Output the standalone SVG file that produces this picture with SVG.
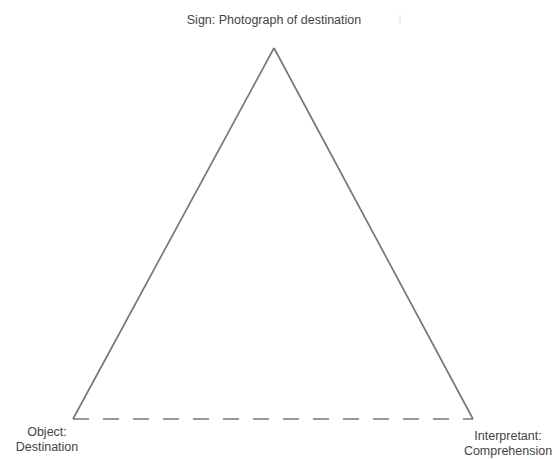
<svg xmlns="http://www.w3.org/2000/svg" width="554" height="459" viewBox="0 0 554 459">
  <style>
    .lbl { font-family: "Liberation Sans", Arial, sans-serif; font-size: 12.5px; fill: #444; text-anchor: middle; }
    .edge { stroke: #777777; stroke-width: 1.7; fill: none; stroke-linecap: butt; }
  </style>
  <rect width="554" height="459" fill="#ffffff"/>
  <!-- connectors: two solid sides and a dashed base -->
  <g id="connectors">
    <line class="edge" x1="274" y1="48" x2="73" y2="419"/>
    <line class="edge" x1="274" y1="48" x2="473" y2="419"/>
    <line class="edge" x1="73" y1="419" x2="473" y2="419" stroke-dasharray="16 14"/>
  </g>
  <g id="sign">
    <text class="lbl" x="274" y="24">Sign: Photograph of destination</text>
    <line x1="400" y1="15" x2="400" y2="24" stroke="#e2e2e2" stroke-width="1"/>
  </g>
  <g id="object">
    <text class="lbl" x="47" y="436">Object:</text>
    <text class="lbl" x="47" y="451">Destination</text>
  </g>
  <g id="interpretant">
    <text class="lbl" x="508" y="440">Interpretant:</text>
    <text class="lbl" x="508" y="455">Comprehension</text>
  </g>
</svg>
